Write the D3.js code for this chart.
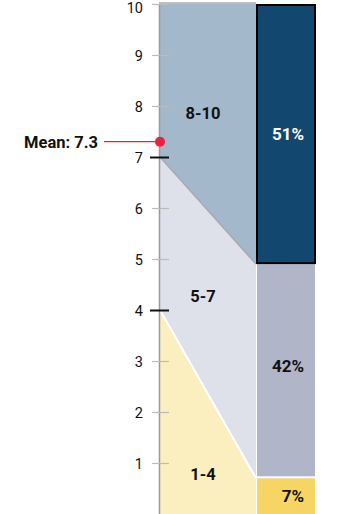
<!DOCTYPE html>
<html>
<head>
<meta charset="utf-8">
<script src="https://cdn.jsdelivr.net/npm/d3@7"></script>
<style>
  body { margin: 0; background: #fff; }
  svg { display: block; font-family: Roboto, sans-serif; }
</style>
</head>
<body>
<div id="chart"></div>
<script>
// Score groups (bottom to top), their score bounds and share of answers
const groups = ["1-4", "5-7", "8-10"];
const scoreBounds = [0, 4, 7, 10];
const shares = [7, 42, 51];
const shareLabels = ["7%", "42%", "51%"];
const scoreTicks = [1, 2, 3, 4, 5, 6, 7, 8, 9, 10];
const boundaryTicks = [4, 7];
const meanScore = 7.3;
const meanLabel = "Mean: 7.3";

// colours per group
const areaColors = ["#fbefc0", "#dfe1ea", "#a3b8cb"];
const barColors = ["#f6d564", "#b0b5c8", "#12476f"];
const barTextColors = ["#111", "#111", "#fff"];

const width = 358, height = 514;
const axisX = 159;      // score axis position
const areaRight = 256;  // where the funnel meets the bars
const barRight = 315;

const svg = d3.select("#chart").append("svg")
  .attr("width", width)
  .attr("height", height);

// score scale on the left, percentage scale on the right (same pixel span)
const y = d3.scaleLinear().domain([0, 10]).range([514, 4]);
const cumShares = d3.cumsum([0].concat(shares));
const p = d3.scaleLinear().domain([0, 100]).range([514, 4]);

// Funnel polygons: left edge from score bounds, right edge from cumulative shares
const polys = groups.map((g, i) => [
  [axisX + 1, y(scoreBounds[i])],
  [areaRight, p(cumShares[i])],
  [areaRight, p(cumShares[i + 1])],
  [axisX + 1, y(scoreBounds[i + 1])]
]);

svg.selectAll(".area")
  .data(polys)
  .join("path")
    .attr("class", "area")
    .attr("d", d => "M" + d.join("L") + "Z")
    .attr("fill", (d, i) => areaColors[i]);

// divider lines between groups
svg.append("line")
  .attr("x1", axisX + 1).attr("y1", y(scoreBounds[1]))
  .attr("x2", areaRight).attr("y2", p(cumShares[1]))
  .attr("stroke", "#fff").attr("stroke-width", 2);
svg.append("line")
  .attr("x1", axisX + 1).attr("y1", y(scoreBounds[2]))
  .attr("x2", areaRight).attr("y2", p(cumShares[2]))
  .attr("stroke", "#aaa").attr("stroke-width", 1.5);
// top edge
svg.append("line")
  .attr("x1", axisX).attr("y1", y(10) - 1)
  .attr("x2", areaRight).attr("y2", y(10) - 1)
  .attr("stroke", "#aaa").attr("stroke-width", 1.5);

// Stacked share bars
svg.selectAll(".bar")
  .data(shares)
  .join("rect")
    .attr("class", "bar")
    .attr("x", areaRight + 1)
    .attr("width", barRight - areaRight - 1)
    .attr("y", (d, i) => p(cumShares[i + 1]) + (i === 2 ? 1 : 0))
    .attr("height", (d, i) => p(cumShares[i]) - p(cumShares[i + 1]) - (i === 0 ? 0 : 2))
    .attr("fill", (d, i) => barColors[i])
    .attr("stroke", (d, i) => i === 2 ? "#000" : "none")
    .attr("stroke-width", 2);

svg.selectAll(".barLabel")
  .data(shareLabels)
  .join("text")
    .attr("class", "barLabel")
    .attr("x", barRight - 11)
    .attr("y", (d, i) => (p(cumShares[i]) + p(cumShares[i + 1])) / 2 + (i === 1 ? -5 : 0))
    .attr("dy", "0.36em")
    .attr("text-anchor", "end")
    .style("font-size", "17px")
    .style("font-weight", "bold")
    .attr("fill", (d, i) => barTextColors[i])
    .text(d => d);

// group labels inside the funnel
const groupLabelY = [480, 302, 119];
svg.selectAll(".groupLabel")
  .data(groups)
  .join("text")
    .attr("class", "groupLabel")
    .attr("x", 203)
    .attr("y", (d, i) => groupLabelY[i])
    .attr("text-anchor", "middle")
    .style("font-size", "16.5px")
    .style("font-weight", "bold")
    .attr("fill", "#111")
    .text(d => d);

// Score axis
const axis = svg.append("g")
  .attr("transform", `translate(${axisX},0)`)
  .call(d3.axisLeft(y).tickValues(scoreTicks).tickSize(7).tickSizeOuter(0).tickPadding(8));

axis.select(".domain").attr("stroke", "#999").attr("stroke-width", 1.5);
axis.selectAll(".tick line")
  .attr("x1", d => boundaryTicks.includes(d) ? -9 : -7)
  .attr("x2", 10)
  .attr("stroke", d => boundaryTicks.includes(d) ? "#111" : "#bbb")
  .attr("stroke-width", d => boundaryTicks.includes(d) ? 2 : 1.2);
axis.selectAll(".tick text")
  .attr("x", -16)
  // top label sits a little lower so it stays inside the page
  .attr("dy", d => d === 10 ? "0.58em" : "0.4em")
  .style("font-size", "14.5px")
  .style("font-family", "Roboto, sans-serif")
  .attr("fill", "#111");

// Mean marker
svg.append("line")
  .attr("x1", 104).attr("x2", axisX)
  .attr("y1", y(meanScore)).attr("y2", y(meanScore))
  .attr("stroke", "#e8223f").attr("stroke-width", 1.2);
svg.append("circle")
  .attr("cx", axisX + 1).attr("cy", y(meanScore))
  .attr("r", 5)
  .attr("fill", "#e8223f");
svg.append("text")
  .attr("x", 98)
  .attr("y", y(meanScore))
  .attr("dy", "0.36em")
  .attr("text-anchor", "end")
  .style("font-size", "16.5px")
  .style("font-weight", "bold")
  .attr("fill", "#111")
  .text(meanLabel);
</script>
</body>
</html>
